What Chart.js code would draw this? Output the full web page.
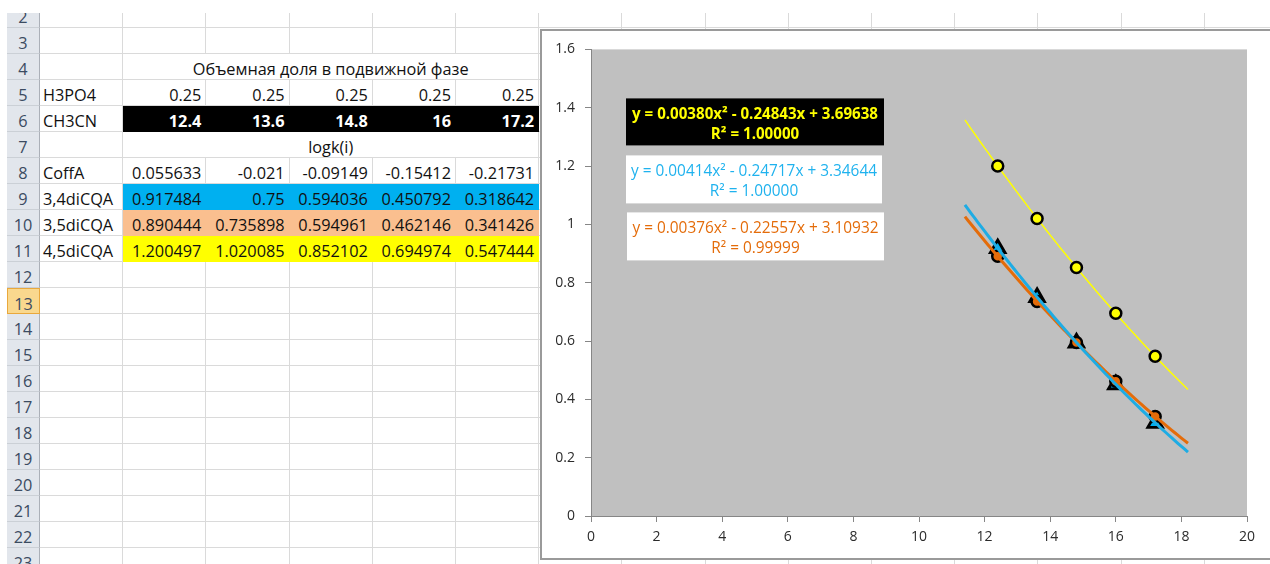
<!DOCTYPE html>
<html>
<head>
<meta charset="utf-8">
<script src="https://cdn.jsdelivr.net/npm/chart.js@4.4.1/dist/chart.umd.min.js"></script>
<style>
html,body{margin:0;padding:0;width:1270px;height:564px;overflow:hidden;background:#fff;}
#sheet{position:absolute;left:0;top:13px;width:1270px;height:551px;overflow:hidden;}
.cell{position:absolute;box-sizing:border-box;border-right:1px solid #DADADA;border-bottom:1px solid #DADADA;
  font:16.3px 'Open Sans',sans-serif;color:#111;white-space:nowrap;overflow:visible;line-height:26px;padding:2px 4px 0 4px;}
.hdr{background:#E2E6EC;border-right:1px solid #ABB0B8;border-bottom:1px solid #CBD0D6;color:#3B4B61;text-align:center;padding:2px 0 0 0;overflow:hidden;}
.hdr.sel{background:#F9D88E;border:1px solid #E9A83C;}
.num{text-align:right;}
.lbl{text-align:left;padding-left:3px;}
.merged{text-align:center;}
#chartBox{position:absolute;left:540px;top:29px;width:760px;height:527px;border:2px solid #9A9A9A;background:#fff;}
#chartBox canvas{position:absolute;left:0;top:0;}
</style>
</head>
<body>
<div id="sheet"></div>
<div id="chartBox"><canvas id="c" width="730" height="527"></canvas></div>
<script>
// ---------- data ----------
const ch3cnShare = [12.4, 13.6, 14.8, 16, 17.2];
const h3po4Share = [0.25, 0.25, 0.25, 0.25, 0.25];
const coffA      = [0.055633, -0.021, -0.09149, -0.15412, -0.21731];
const diCQA34    = [0.917484, 0.75, 0.594036, 0.450792, 0.318642];
const diCQA35    = [0.890444, 0.735898, 0.594961, 0.462146, 0.341426];
const diCQA45    = [1.200497, 1.020085, 0.852102, 0.694974, 0.547444];
const rowNames   = ['H3PO4', 'CH3CN', 'CoffA', '3,4diCQA', '3,5diCQA', '4,5diCQA'];
const titleText  = 'Объемная доля в подвижной фазе';
const logkText   = 'logk(i)';
// trendline coefficients [a, b, c] for y = a x^2 + b x + c, as printed on the chart
const trend45 = [0.00380, -0.24843, 3.69638];
const trend34 = [0.00414, -0.24717, 3.34644];
const trend35 = [0.00376, -0.22557, 3.10932];
const r2_45 = 1.00000, r2_34 = 1.00000, r2_35 = 0.99999;
const trendFrom = 11.4, trendTo = 18.2;
const xTickLabels = ['0','2','4','6','8','10','12','14','16','18','20'];
const yTickLabels = ['0','0.2','0.4','0.6','0.8','1','1.2','1.4','1.6'];

// ---------- spreadsheet ----------
const sheet = document.getElementById('sheet');
const SHEET_TOP = 13, ROW0 = 2.3, RH = 26, COL0 = 40, CW = 83.2;
function rowTop(r){ return ROW0 + RH*(r-2) - SHEET_TOP; }
function colLeft(c){ return COL0 + CW*(c-1); }
function addCell(r, c, span, text, cls, style){
  const d = document.createElement('div');
  d.className = 'cell ' + (cls||'');
  d.style.top = rowTop(r) + 'px';
  d.style.height = RH + 'px';
  d.style.left = colLeft(c) + 'px';
  d.style.width = (CW*span) + 'px';
  if (style) Object.assign(d.style, style);
  if (text !== undefined && text !== null) d.textContent = text;
  sheet.appendChild(d);
  return d;
}
const rowContent = {};
rowContent[4] = {merged: titleText};
rowContent[5] = {label: rowNames[0], vals: h3po4Share.map(v=>v.toFixed(2))};
rowContent[6] = {label: rowNames[1], vals: ch3cnShare.map(String), bg:'#000000', color:'#ffffff', bold:true};
rowContent[7] = {merged: logkText};
rowContent[8] = {label: rowNames[2], vals: coffA.map(String)};
rowContent[9] = {label: rowNames[3], vals: diCQA34.map(String), bg:'#00B0F0'};
rowContent[10] = {label: rowNames[4], vals: diCQA35.map(String), bg:'#FABF8F'};
rowContent[11] = {label: rowNames[5], vals: diCQA45.map(String), bg:'#FFFF00'};
for (let r = 2; r <= 23; r++){
  const h = document.createElement('div');
  h.className = 'cell hdr' + (r===13 ? ' sel' : '');
  h.style.top = rowTop(r) + 'px'; h.style.height = RH + 'px';
  h.style.left = '7px'; h.style.width = (COL0-7) + 'px';
  h.textContent = r;
  sheet.appendChild(h);
  const rc = rowContent[r] || {};
  addCell(r, 1, 1, rc.label || '', 'lbl');
  if (rc.merged){
    addCell(r, 2, 5, rc.merged, 'merged');
  } else if (rc.vals){
    rc.vals.forEach((t,i)=>{
      const st = {};
      if (rc.bg){ st.background = rc.bg; st.borderRightColor = rc.bg; st.borderBottomColor = rc.bg; }
      if (rc.color) st.color = rc.color;
      if (rc.bold) st.fontWeight = 'bold';
      addCell(r, 2+i, 1, t, 'num', st);
    });
  } else {
    for (let c = 2; c <= 6; c++) addCell(r, c, 1, '');
  }
  for (let c = 7; c <= 16; c++) addCell(r, c, 1, '');
}

// ---------- chart ----------
function polyPoints(coef){
  const pts = [];
  const n = 68;
  for (let i = 0; i <= n; i++){
    const x = trendFrom + (trendTo - trendFrom)*i/n;
    pts.push({x: x, y: coef[0]*x*x + coef[1]*x + coef[2]});
  }
  return pts;
}
function pairs(xs, ys){ return xs.map((x,i)=>({x:x, y:ys[i]})); }
function eqText(coef){
  const sgn = v => v < 0 ? ' - ' : ' + ';
  return 'y = ' + coef[0].toFixed(5) + 'x²' + sgn(coef[1]) + Math.abs(coef[1]).toFixed(5) + 'x' + sgn(coef[2]) + Math.abs(coef[2]).toFixed(5);
}
const eqBoxes = [
  {coef: trend45, r2: r2_45, dx: 35, dy: 49, w: 258, h: 47, bg:'#000000', color:'#FFFF00', weight:'bold'},
  {coef: trend34, r2: r2_34, dx: 35, dy: 106, w: 256, h: 48, bg:'#FFFFFF', color:'#1FB2EE', weight:'normal'},
  {coef: trend35, r2: r2_35, dx: 36, dy: 163, w: 257, h: 48, bg:'#FFFFFF', color:'#E46C0A', weight:'normal'}
];
const plotBg = {
  id:'plotBg',
  beforeDraw(chart){
    const {ctx, chartArea:a} = chart;
    ctx.save(); ctx.fillStyle = '#C0C0C0';
    ctx.fillRect(a.left, a.top, a.right-a.left, a.bottom-a.top);
    ctx.restore();
  }
};
const eqPlugin = {
  id:'eqLabels',
  afterDraw(chart){
    const {ctx, chartArea:a} = chart;
    eqBoxes.forEach(b=>{
      const x = a.left + b.dx, y = a.top + b.dy;
      ctx.save();
      ctx.fillStyle = b.bg; ctx.fillRect(x, y, b.w, b.h);
      const l1 = eqText(b.coef), l2 = 'R² = ' + b.r2.toFixed(5);
      ctx.font = b.weight + ' 14px "Open Sans"';
      const m = ctx.measureText(l1).width;
      const size = 14 * 246 / m;
      ctx.font = b.weight + ' ' + size.toFixed(2) + 'px "Open Sans"';
      ctx.fillStyle = b.color; ctx.textAlign = 'center'; ctx.textBaseline = 'middle';
      ctx.fillText(l1, x + b.w/2, y + 16.5);
      ctx.fillText(l2, x + b.w/2, y + 36.5);
      ctx.restore();
    });
  }
};
const tickFont = {family:'Open Sans', size:14};
new Chart(document.getElementById('c'), {
  type:'scatter',
  data:{datasets:[
    {label:'4,5diCQA', data:pairs(ch3cnShare, diCQA45), order:0, showLine:false,
     pointStyle:'circle', pointRadius:5.5, pointBackgroundColor:'#FFFF00', pointBorderColor:'#000', pointBorderWidth:2.5},
    {label:'4,5diCQA trend', data:polyPoints(trend45), order:1, showLine:true, pointRadius:0,
     borderColor:'#FFFF00', borderWidth:1.5},
    {label:'3,4diCQA trend', data:polyPoints(trend34), order:2, showLine:true, pointRadius:0,
     borderColor:'#1EACE4', borderWidth:3},
    {label:'3,5diCQA trend', data:polyPoints(trend35), order:3, showLine:true, pointRadius:0,
     borderColor:'#E46C0A', borderWidth:3},
    {label:'3,5diCQA', data:pairs(ch3cnShare, diCQA35), order:4, showLine:false,
     pointStyle:'circle', pointRadius:5.5, pointBackgroundColor:'#E46C0A', pointBorderColor:'#000', pointBorderWidth:2.5},
    {label:'3,4diCQA', data:pairs(ch3cnShare, diCQA34), order:5, showLine:false,
     pointStyle:'triangle', pointRadius:8.5, pointBackgroundColor:'#00B0F0', pointBorderColor:'#000', pointBorderWidth:2.8}
  ]},
  options:{
    responsive:false, animation:false,
    layout:{padding:{top:16, right:25, bottom:0, left:0}},
    plugins:{legend:{display:false}, tooltip:{enabled:false}},
    elements:{line:{tension:0}},
    scales:{
      x:{type:'linear', min:0, max:20,
         ticks:{stepSize:2, font:tickFont, color:'#2b2b2b', padding:7, maxRotation:0,
                callback:(v,i)=>xTickLabels[i]},
         grid:{display:true, drawOnChartArea:false, drawTicks:true, tickLength:6, color:'#868686'},
         border:{display:true, color:'#868686', width:1},
         afterFit(s){ s.height = 42; }},
      y:{type:'linear', min:0, max:1.6,
         ticks:{stepSize:0.2, font:tickFont, color:'#2b2b2b', padding:10,
                callback:(v,i)=>yTickLabels[i]},
         grid:{display:true, drawOnChartArea:false, drawTicks:true, tickLength:6, color:'#868686'},
         border:{display:true, color:'#868686', width:1},
         afterFit(s){ s.width = 49; }}
    }
  },
  plugins:[plotBg, eqPlugin]
});
</script>
</body>
</html>
